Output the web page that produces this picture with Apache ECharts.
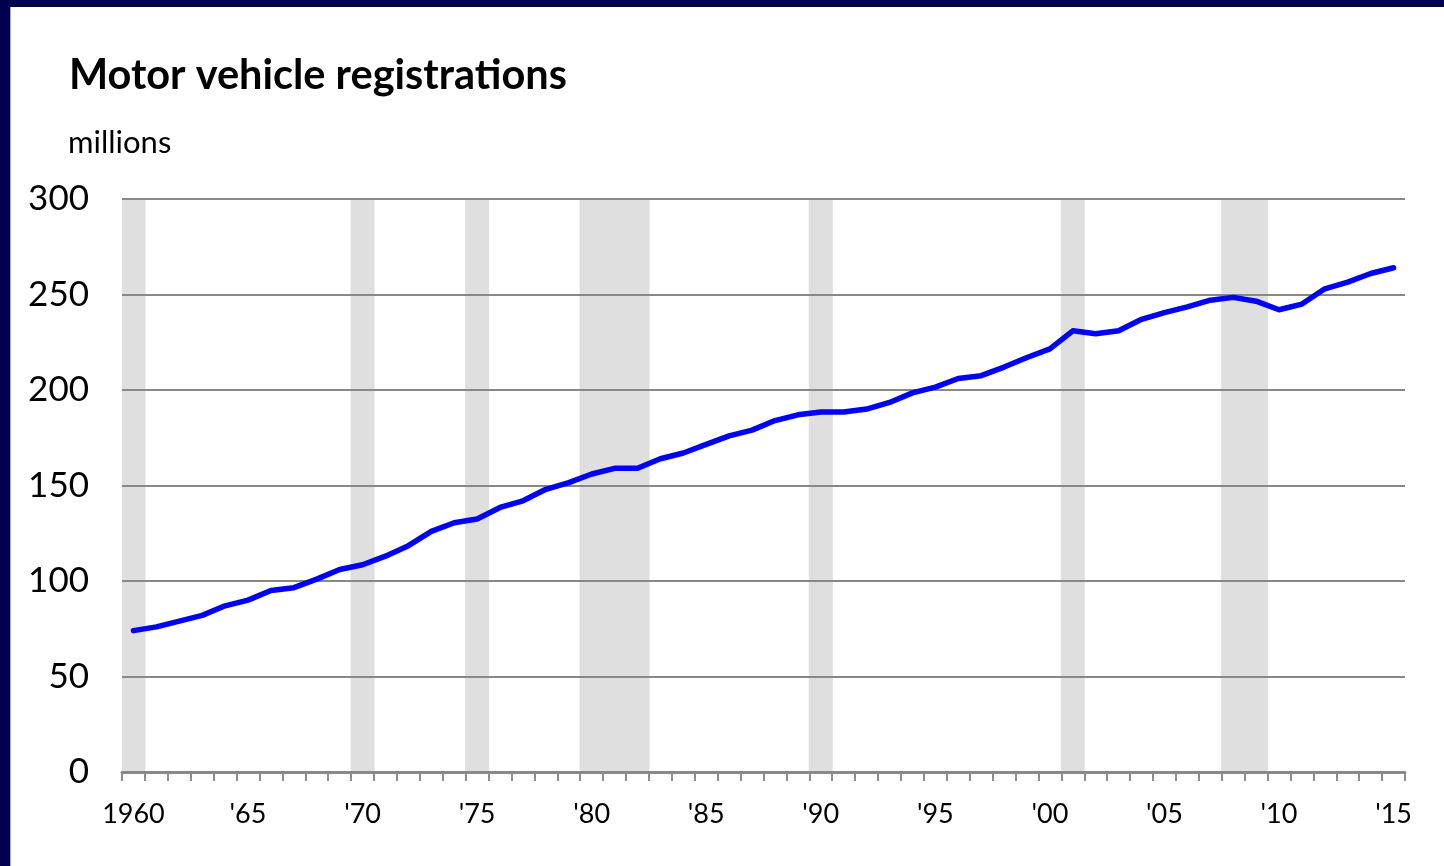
<!DOCTYPE html>
<html>
<head>
<meta charset="utf-8">
<title>Motor vehicle registrations</title>
<script src="https://cdn.jsdelivr.net/npm/echarts@6/dist/echarts.min.js"></script>
<style>
html,body{margin:0;padding:0;width:1444px;height:866px;overflow:hidden;background:#00004f;}
#frame{position:absolute;left:10px;top:7px;width:1434px;height:859px;background:#fff;border-left:1px solid #a8a8b8;box-sizing:border-box;}
#chart{width:100%;height:100%;}
</style>
</head>
<body>
<div id="frame"><div id="chart"></div></div>
<script>
// 年份
var years = [];
for (var y = 1960; y <= 2015; y++) { years.push(String(y)); }

// 登记车辆数 (百万)
var registrations = [
	74, 76, 79, 82, 87, 90, 95, 96.5, 101, 106,
	108.5, 113, 118.5, 126, 130.5, 132.5, 138.5, 142, 148, 151.5,
	156, 159, 159, 164, 167, 171.5, 176, 179, 184, 187,
	188.5, 188.5, 190, 193.5, 198.5, 201.5, 206, 207.5, 212, 217,
	221.5, 231, 229.5, 231, 237, 240.5, 243.5, 247, 248.5, 246.5,
	242, 245, 253, 256.5, 261, 264
];

// 经济衰退年份(灰色柱)
var recessionYears = ['1960', '1970', '1975', '1980', '1981', '1982', '1990', '2001', '2008', '2009'];

var yTicks = [0, 50, 100, 150, 200, 250, 300];

var recessionData = [];
for (var i = 0; i < years.length; i++) {
	recessionData.push(recessionYears.indexOf(years[i]) >= 0 ? yTicks[yTicks.length - 1] : '-');
}

var font = 'Lato, "Open Sans", sans-serif';

var dom = document.getElementById('chart');
var myChart = echarts.init(dom);
var option = {
	animation: false,
	title: [
		{
			text: 'Motor vehicle registrations',
			left: 53,
			top: 43,
			textStyle: { fontFamily: font, fontWeight: 'bold', fontSize: 41.5, color: '#000' }
		},
		{
			text: 'millions',
			left: 52,
			top: 115,
			textStyle: { fontFamily: font, fontWeight: 'normal', fontSize: 31, color: '#000' }
		}
	],
	grid: { left: 111, right: 39, top: 192, bottom: 94 },
	xAxis: {
		type: 'category',
		data: years,
		boundaryGap: true,
		axisLine: { lineStyle: { color: '#8c8c8c', width: 3 } },
		axisTick: { show: true, interval: 0, length: 9, lineStyle: { color: '#8c8c8c', width: 2 } },
		axisLabel: {
			interval: 4,
			margin: 29,
			fontFamily: font,
			fontSize: 27,
			color: '#000',
			formatter: function (val, idx) {
				return idx === 0 ? val : "'" + val.slice(2);
			}
		},
		splitLine: { show: false }
	},
	yAxis: {
		type: 'value',
		min: 0,
		max: 300,
		interval: 50,
		z: 3,
		axisLine: { show: false },
		axisTick: { show: false },
		axisLabel: { margin: 33, fontFamily: font, fontSize: 35, color: '#000' },
		splitLine: { lineStyle: { color: '#888888', width: 2 } }
	},
	series: [
		{
			name: 'recession',
			type: 'bar',
			data: recessionData,
			barWidth: 24,
			barGap: '-100%',
			z: 1,
			silent: true,
			itemStyle: { color: '#dfdfdf' }
		},
		{
			name: 'registrations',
			type: 'line',
			data: registrations,
			z: 5,
			symbol: 'none',
			lineStyle: { color: '#0000ff', width: 5.5, cap: 'round', join: 'round' }
		}
	]
};
myChart.setOption(option, true);
</script>
</body>
</html>
